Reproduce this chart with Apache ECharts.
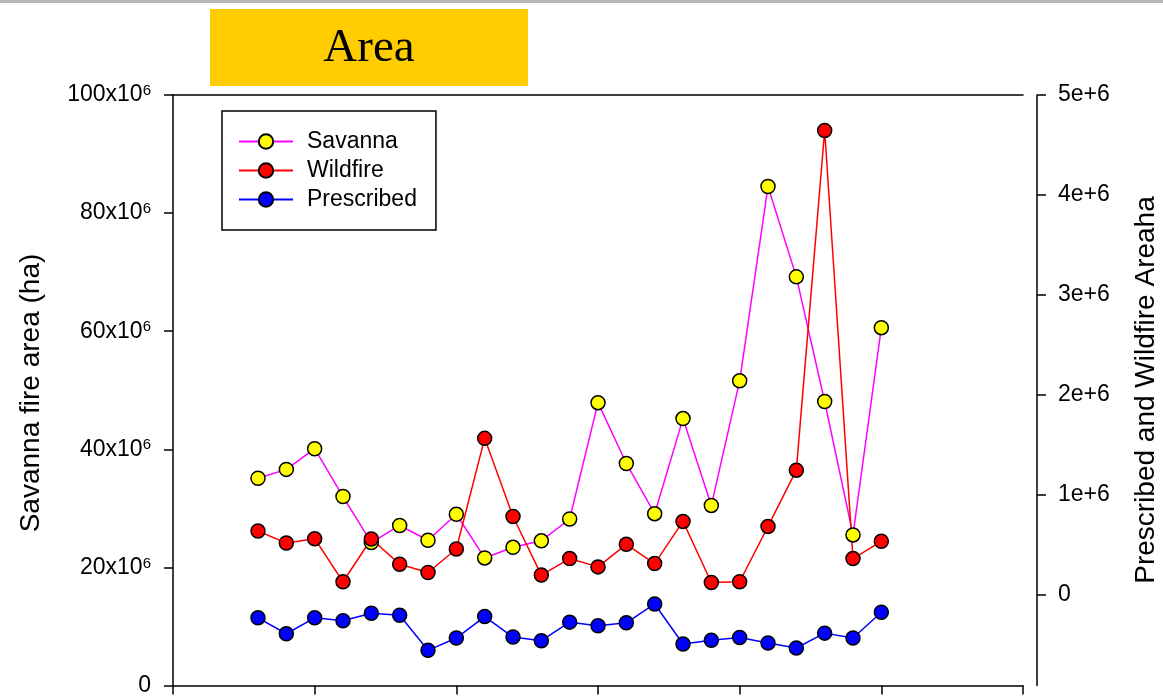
<!DOCTYPE html>
<html>
<head>
<meta charset="utf-8">
<title>Area</title>
<script src="https://cdn.jsdelivr.net/npm/echarts@6/dist/echarts.min.js"></script>
<style>
  html, body { margin: 0; padding: 0; background: #fff; }
  #chart { width: 1163px; height: 697px; }
</style>
</head>
<body>
<div id="chart"></div>
<script>
// x position of each point on the (unlabelled) bottom axis
const xPos = [3, 4, 5, 6, 7, 8, 9, 10, 11, 12, 13, 14, 15, 16, 17, 18, 19, 20, 21, 22, 23, 24, 25];

// savanna fire area (ha), left axis
const savanna = [35.1e6, 36.6e6, 40.1e6, 32.0e6, 24.2e6, 27.1e6, 24.6e6, 29.0e6, 21.6e6, 23.4e6, 24.5e6, 28.2e6,
  47.9e6, 37.6e6, 29.1e6, 45.2e6, 30.5e6, 51.6e6, 84.5e6, 69.2e6, 48.1e6, 25.5e6, 60.6e6];

// wildfire / prescribed area, right axis
const wildfire = [0.636e6, 0.517e6, 0.560e6, 0.129e6, 0.557e6, 0.305e6, 0.222e6, 0.457e6, 1.564e6, 0.782e6, 0.196e6, 0.361e6,
  0.278e6, 0.504e6, 0.311e6, 0.733e6, 0.122e6, 0.129e6, 0.683e6, 1.246e6, 4.645e6, 0.361e6, 0.534e6];
const prescribed = [-0.232e6, -0.391e6, -0.232e6, -0.262e6, -0.186e6, -0.206e6, -0.557e6, -0.434e6, -0.219e6, -0.424e6, -0.461e6, -0.275e6,
  -0.311e6, -0.282e6, -0.093e6, -0.494e6, -0.457e6, -0.428e6, -0.484e6, -0.534e6, -0.385e6, -0.434e6, -0.176e6];

const rightTicks = [0, 1e6, 2e6, 3e6, 4e6, 5e6];

const FONT = "'Liberation Sans', Arial, sans-serif";

function pairs(vals) {
  return vals.map((v, i) => [xPos[i], v]);
}

const chart = echarts.init(document.getElementById('chart'));

const axisLine = { show: true, onZero: false, lineStyle: { color: '#000', width: 1.5 } };
const axisTick = { show: true, length: 9, lineStyle: { color: '#000', width: 1.5 } };

chart.setOption({
  animation: false,
  backgroundColor: '#fff',
  // plot box is fixed in pixels: 173..1023 across, 95..690 down
  grid: { left: 173, width: 850, top: 95, height: 595 },
  legend: {
    orient: 'vertical',
    left: 222,
    top: 111,
    padding: [19, 19, 19, 16],
    itemWidth: 54,
    itemHeight: 18,
    itemGap: 6,
    borderColor: '#000',
    borderWidth: 1.5,
    textStyle: { fontFamily: FONT, fontSize: 23, color: '#000', padding: [0, 0, 0, 9] },
    data: ['Savanna', 'Wildfire', 'Prescribed']
  },
  xAxis: [
    {
      type: 'value', min: 0, max: 30, interval: 5, position: 'bottom',
      axisLine: axisLine,
      axisTick: axisTick,
      axisLabel: { show: false },
      splitLine: { show: false }
    },
    {
      type: 'value', min: 0, max: 30, position: 'top',
      axisLine: axisLine,
      axisTick: { show: false },
      axisLabel: { show: false },
      splitLine: { show: false }
    }
  ],
  yAxis: [
    {
      type: 'value', min: 0, max: 100e6, interval: 20e6, position: 'left',
      axisLine: axisLine,
      axisTick: axisTick,
      axisLabel: {
        margin: 22,
        fontFamily: FONT, fontSize: 23, color: '#000',
        formatter: v => v === 0 ? '{n|0}' : '{n|' + (v / 1e6) + 'x10}{s|6}',
        rich: {
          n: { fontFamily: FONT, fontSize: 23, lineHeight: 23, color: '#000' },
          s: { fontFamily: FONT, fontSize: 15, lineHeight: 15, color: '#000', verticalAlign: 'top' }
        }
      },
      splitLine: { show: false }
    },
    {
      type: 'value', min: -909000, max: 5e6, position: 'right', offset: 14,
      axisLine: axisLine,
      axisTick: { show: true, length: 9, customValues: rightTicks, lineStyle: { color: '#000', width: 1.5 } },
      axisLabel: {
        margin: 21,
        fontFamily: FONT, fontSize: 23, color: '#000',
        customValues: rightTicks,
        formatter: v => v === 0 ? '0' : (v / 1e6) + 'e+6'
      },
      splitLine: { show: false }
    }
  ],
  series: [
    {
      name: 'Savanna', type: 'line', yAxisIndex: 0,
      data: pairs(savanna),
      symbol: 'circle', symbolSize: 14,
      lineStyle: { color: '#FF00FF', width: 1.5 },
      itemStyle: { color: '#FFFF00', borderColor: '#000', borderWidth: 1.5 }
    },
    {
      name: 'Wildfire', type: 'line', yAxisIndex: 1,
      data: pairs(wildfire),
      symbol: 'circle', symbolSize: 14,
      lineStyle: { color: '#FF0000', width: 1.5 },
      itemStyle: { color: '#FF0000', borderColor: '#000', borderWidth: 1.5 }
    },
    {
      name: 'Prescribed', type: 'line', yAxisIndex: 1,
      data: pairs(prescribed),
      symbol: 'circle', symbolSize: 14,
      lineStyle: { color: '#0000FF', width: 1.5 },
      itemStyle: { color: '#0000FF', borderColor: '#000', borderWidth: 1.5 }
    }
  ],
  graphic: [
    // thin grey strip on the top edge
    { type: 'rect', left: 0, top: 0, shape: { width: 1163, height: 3 }, style: { fill: '#b8b8b8' } },
    // title box
    { type: 'rect', left: 210, top: 9, shape: { width: 318, height: 77 }, style: { fill: '#FFCC00' } },
    {
      type: 'text', x: 369, y: 49,
      style: { text: 'Area', fontFamily: "'Liberation Serif', 'Times New Roman', serif", fontSize: 47, fill: '#000', textAlign: 'center', textVerticalAlign: 'middle' }
    },
    // axis titles
    {
      type: 'text', x: 31, y: 393, rotation: Math.PI / 2,
      style: { text: 'Savanna fire area (ha)', fontFamily: FONT, fontSize: 28, fill: '#000', textAlign: 'center', textVerticalAlign: 'middle' }
    },
    {
      type: 'text', x: 1146, y: 390, rotation: Math.PI / 2,
      style: { text: 'Prescribed and Wildfire Areaha', fontFamily: FONT, fontSize: 28, fill: '#000', textAlign: 'center', textVerticalAlign: 'middle' }
    }
  ]
});

window.onresize = function () {
  chart.resize();
};
</script>
</body>
</html>
